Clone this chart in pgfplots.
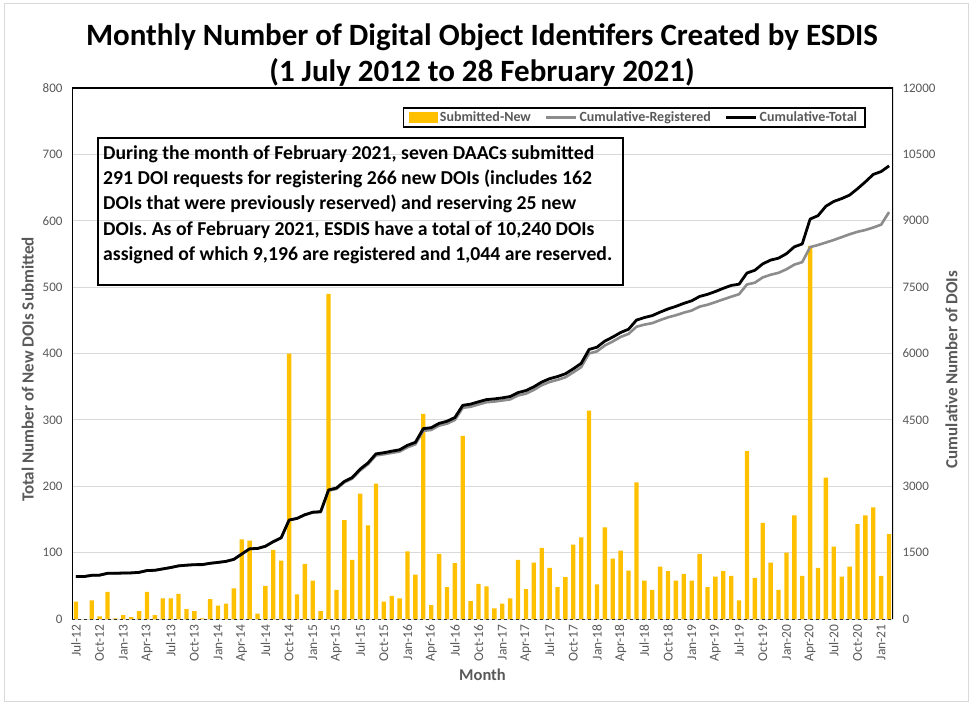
\documentclass[border=0pt]{standalone}
\usepackage{fontspec}
\setmainfont{Carlito}
\usepackage{pgfplots}
\pgfplotsset{compat=1.18}
\usepackage{pgfplotstable}
\frenchspacing

\definecolor{gold}{RGB}{255,192,0}
\definecolor{reggray}{RGB}{140,140,140}
\definecolor{txtgray}{RGB}{89,89,89}
\definecolor{gridgray}{RGB}{217,217,217}

\pgfplotstableread{
idx sub tot reg
0 26 959 959
1 0 959 959
2 28 987 987
3 4 991 991
4 41 1032 1032
5 1 1033 1033
6 6 1039 1039
7 3 1042 1042
8 12 1054 1054
9 41 1095 1095
10 6 1101 1101
11 31 1132 1132
12 31 1163 1163
13 38 1201 1201
14 15 1216 1216
15 12 1228 1228
16 1 1229 1229
17 30 1259 1259
18 20 1279 1279
19 23 1302 1302
20 46 1348 1348
21 120 1468 1468
22 118 1586 1586
23 8 1594 1594
24 50 1644 1644
25 104 1748 1748
26 88 1836 1836
27 400 2236 2236
28 37 2273 2273
29 83 2356 2356
30 58 2414 2404
31 12 2426 2416
32 490 2916 2901
33 44 2960 2940
34 149 3109 3089
35 89 3198 3173
36 189 3387 3357
37 141 3528 3498
38 204 3732 3697
39 26 3758 3723
40 35 3793 3753
41 31 3824 3784
42 102 3926 3881
43 67 3993 3948
44 309 4302 4252
45 21 4323 4273
46 98 4421 4371
47 48 4469 4414
48 84 4553 4498
49 276 4829 4774
50 27 4856 4796
51 53 4909 4849
52 49 4958 4898
53 16 4974 4914
54 23 4997 4937
55 31 5028 4963
56 89 5117 5052
57 45 5162 5092
58 85 5247 5177
59 107 5354 5284
60 77 5431 5356
61 48 5479 5404
62 63 5542 5462
63 112 5654 5574
64 123 5777 5692
65 314 6091 6001
66 52 6143 6048
67 138 6281 6181
68 91 6372 6272
69 103 6475 6375
70 73 6548 6443
71 206 6754 6604
72 58 6812 6652
73 44 6856 6686
74 79 6935 6755
75 72 7007 6817
76 58 7065 6865
77 68 7133 6923
78 58 7191 6971
79 98 7289 7059
80 48 7337 7102
81 64 7401 7161
82 72 7473 7223
83 65 7538 7283
84 28 7566 7340
85 253 7819 7560
86 62 7881 7600
87 145 8026 7720
88 85 8111 7780
89 44 8155 7823
90 100 8255 7903
91 156 8411 8008
92 65 8476 8065
93 562 9038 8404
94 77 9115 8452
95 213 9328 8508
96 109 9437 8565
97 64 9501 8630
98 79 9580 8694
99 143 9723 8750
100 156 9879 8791
101 168 10047 8847
102 65 10112 8912
103 128 10240 9196
}\datatable

\begin{document}
\begin{tikzpicture}[x=1pt,y=1pt]
\path[fill=white] (0,0) rectangle (972,705);
\draw[gridgray, line width=1pt] (4,4) rectangle (968,701);

\node[font=\bfseries\fontsize{31}{36}\selectfont] at (482,668) {Monthly Number of Digital Object Identifers Created by ESDIS};
\node[font=\bfseries\fontsize{31}{36}\selectfont] at (482,633) {(1 July 2012 to 28 February 2021)};

\begin{axis}[
  at={(72pt,86pt)}, anchor=south west,
  width=821pt, height=531pt, scale only axis,
  xmin=-0.5, xmax=103.5, ymin=0, ymax=800,
  ytick={0,100,...,800},
  xtick={0,3,...,102},
  xticklabels={Jul-12,Oct-12,Jan-13,Apr-13,Jul-13,Oct-13,Jan-14,Apr-14,Jul-14,Oct-14,Jan-15,Apr-15,Jul-15,Oct-15,Jan-16,Apr-16,Jul-16,Oct-16,Jan-17,Apr-17,Jul-17,Oct-17,Jan-18,Apr-18,Jul-18,Oct-18,Jan-19,Apr-19,Jul-19,Oct-19,Jan-20,Apr-20,Jul-20,Oct-20,Jan-21},
  ymajorgrids, grid style={gridgray, line width=0.8pt},
  axis line style={draw=none},
  major tick length=0pt,
  /pgf/number format/assume math mode=true,
  /pgf/number format/1000 sep={},
  ticklabel style={text=txtgray},
  yticklabel style={font=\fontsize{13}{15}\selectfont, xshift=-6pt},
  xticklabel style={font=\fontsize{13.5}{15}\selectfont, rotate=90, anchor=east, xshift=-2pt},
  xlabel={Month},
  xlabel style={font=\bfseries\fontsize{16.5}{18}\selectfont, text=txtgray, yshift=0pt},
  ylabel={Total Number of New DOIs Submitted},
  ylabel style={font=\bfseries\fontsize{17}{19}\selectfont, text=txtgray, xshift=-16pt, yshift=2pt},
  clip=false,
]
\addplot[ybar, bar width=0.55, fill=gold, draw=none] table[x=idx, y=sub] {\datatable};
\draw[black!80, dashed, line width=1pt] (rel axis cs:0,0) -- (rel axis cs:1,0);
\end{axis}

\begin{axis}[
  at={(72pt,86pt)}, anchor=south west,
  width=821pt, height=531pt, scale only axis,
  xmin=-0.5, xmax=103.5, ymin=0, ymax=12000,
  axis x line=none,
  axis y line*=right,
  axis line style={draw=none},
  ytick={0,1500,...,12000},
  scaled y ticks=false,
  major tick length=0pt,
  /pgf/number format/assume math mode=true,
  /pgf/number format/1000 sep={},
  yticklabel style={font=\fontsize{13}{15}\selectfont, text=txtgray, xshift=6pt},
  ylabel={Cumulative Number of DOIs},
  ylabel style={font=\bfseries\fontsize{17}{19}\selectfont, text=txtgray, xshift=-16pt, yshift=-3pt},
  legend columns=3,
  legend style={at={(0.967,0.964)}, anchor=north east, draw=black, line width=1.6pt,
    font=\bfseries\fontsize{14}{16}\selectfont, text=txtgray,
    inner xsep=6pt, inner ysep=2pt,
    /tikz/every even column/.append style={column sep=12pt}},
  legend image code/.code={\draw[#1] (0pt,0pt) -- (30pt,0pt);},
]
\addlegendimage{legend image code/.code={\fill[gold] (0pt,-4.5pt) rectangle (27pt,4.5pt);}}
\addlegendentry{Submitted-New}
\addplot[reggray, line width=2.6pt, line join=round] table[x=idx, y=reg] {\datatable};
\addlegendentry{Cumulative-Registered}
\addplot[black, line width=2.8pt, line join=round] table[x=idx, y=tot] {\datatable};
\addlegendentry{Cumulative-Total}
\draw[black, line width=2pt] (rel axis cs:0,0) -- (rel axis cs:0,1) -- (rel axis cs:1,1) -- (rel axis cs:1,0);
\end{axis}

\draw[black, line width=1.8pt] (98,420) rectangle (623,567);
\node[anchor=north west, align=left, inner sep=0pt, font=\bfseries\fontsize{19.7}{25.4}\selectfont] at (103,560) {During the month of February 2021, seven DAACs submitted\\
291 DOI requests for registering 266 new DOIs (includes 162\\
DOIs that were previously reserved) and reserving 25 new\\
DOIs. As of February 2021, ESDIS have a total of 10,240 DOIs\\
assigned of which 9,196 are registered and 1,044 are reserved.};
\end{tikzpicture}
\end{document}
